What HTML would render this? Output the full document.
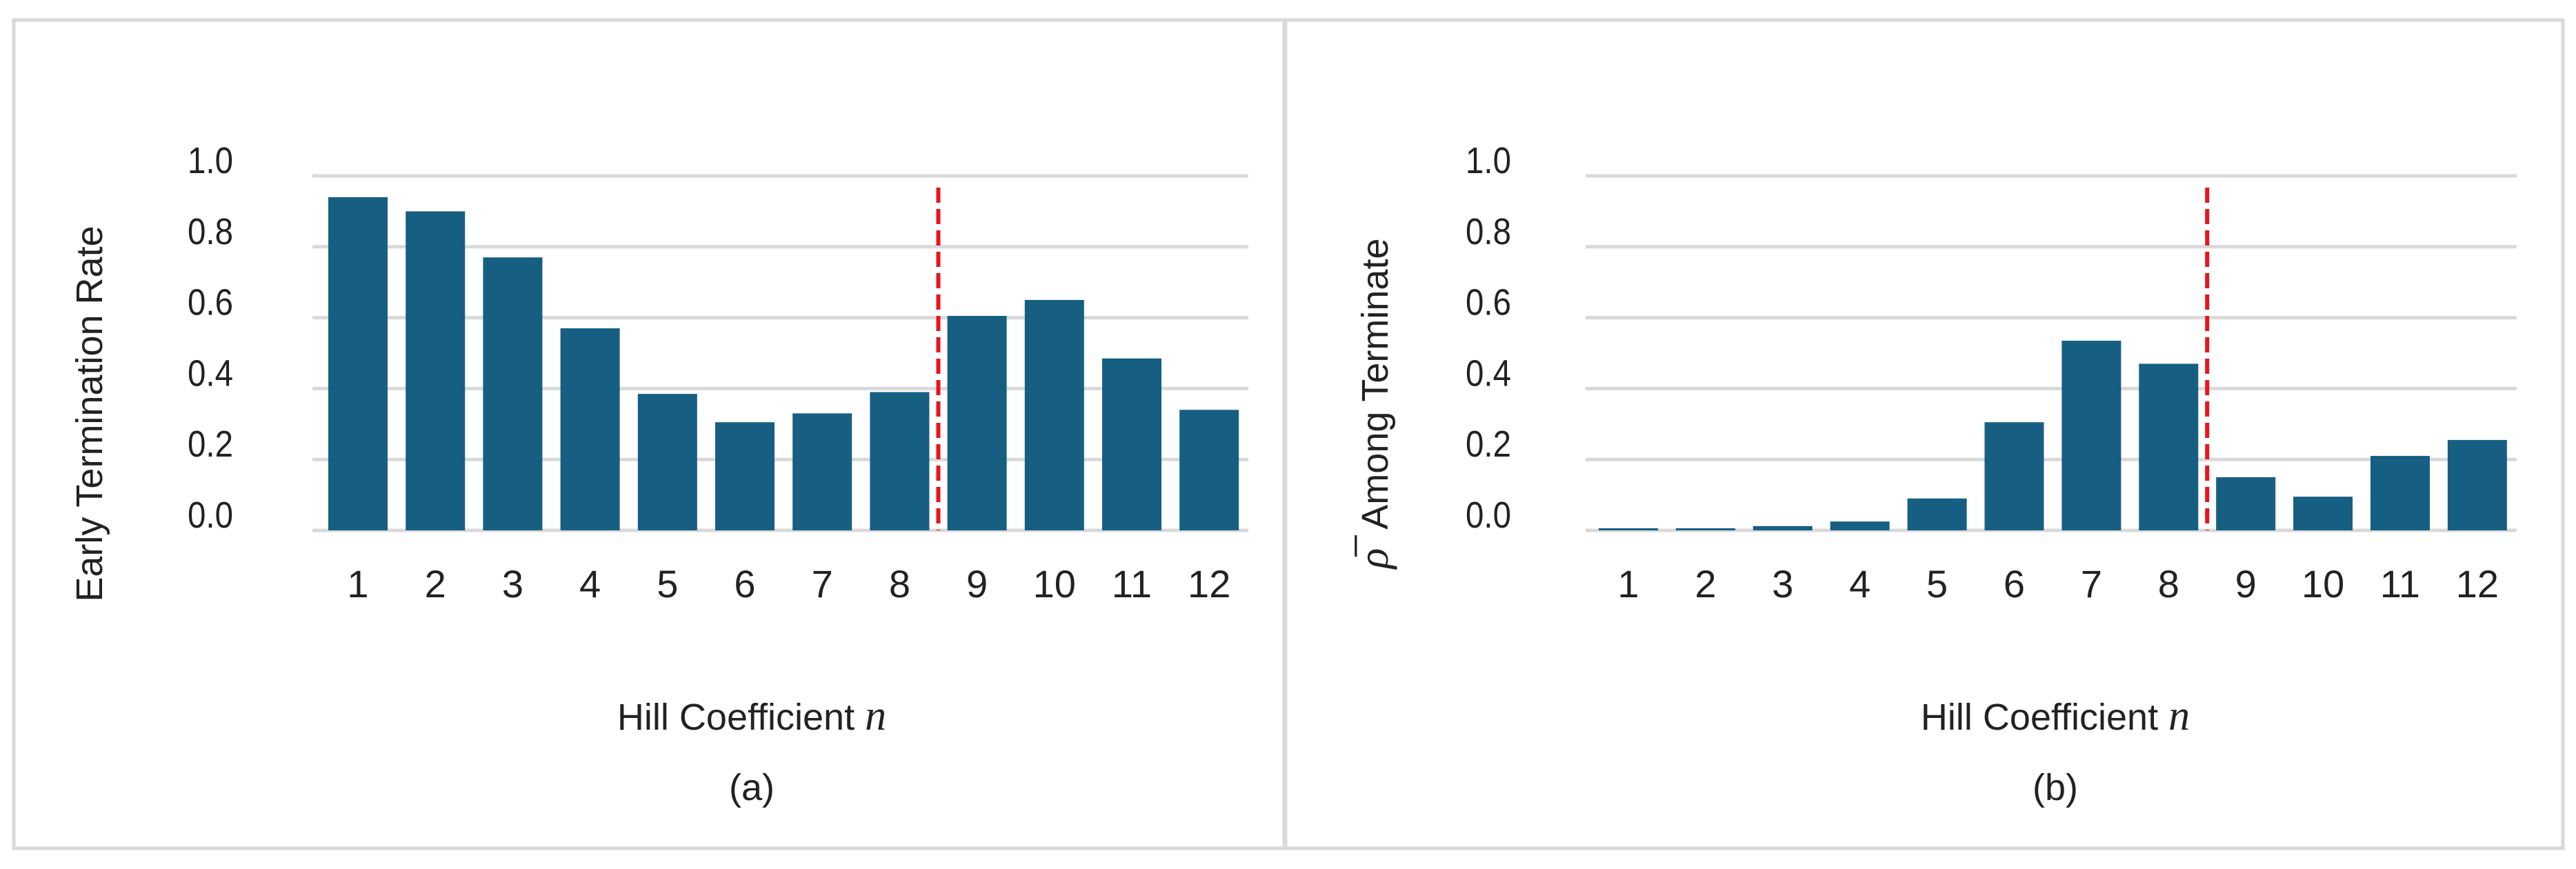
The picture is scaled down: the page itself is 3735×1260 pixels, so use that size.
<!DOCTYPE html>
<html><head><meta charset="utf-8">
<style>
html,body{margin:0;padding:0;background:#fff;}
svg{display:block;}
text{font-family:"Liberation Sans",sans-serif;fill:#222;}
</style></head>
<body>
<svg id="fig" width="3735" height="1260" viewBox="0 0 3735 1260" xmlns="http://www.w3.org/2000/svg">
<rect x="20" y="29" width="1842" height="1201" fill="#fff" stroke="#d9d9d9" stroke-width="5"/>
<rect x="1864" y="29" width="1852" height="1201" fill="#fff" stroke="#d9d9d9" stroke-width="5"/>
<g id="pa"></g>
<g id="pb"></g>
</svg>
<script>
const categories = [1,2,3,4,5,6,7,8,9,10,11,12];
const earlyTermValues = [0.94,0.90,0.77,0.57,0.385,0.305,0.33,0.39,0.605,0.65,0.485,0.34];
const rhoValues = [0.006,0.006,0.012,0.025,0.09,0.305,0.535,0.47,0.15,0.095,0.21,0.255];
const yTicks = [0,0.2,0.4,0.6,0.8,1.0];
const yTickLabels = ["0.0","0.2","0.4","0.6","0.8","1.0"];
const thresholdPosition = 8.5;
const NS = "http://www.w3.org/2000/svg";
function mk(parent, tag, attrs, txt){
  const e = document.createElementNS(NS, tag);
  for (const k in attrs) e.setAttribute(k, attrs[k]);
  if (txt !== undefined) e.textContent = txt;
  parent.appendChild(e);
  return e;
}
function drawPanel(g, cfg, values){
  const yScale = v => cfg.y0 + (cfg.y1 - cfg.y0) * v;
  const xScale = c => cfg.c1 + (c - 1) * cfg.step;
  yTicks.forEach((t,i)=>{
    const ln = mk(g,'line',{x1:cfg.gx0,x2:cfg.gx1,y1:yScale(t),y2:yScale(t),stroke:'#d9d9d9','stroke-width':5});
    
    
    const tx = mk(g,'text',{x:cfg.tickX,y:yScale(t)-4,'text-anchor':'end','font-size':54,textLength:66,lengthAdjust:'spacingAndGlyphs'},yTickLabels[i]);
    
    
  });
  values.forEach((v,i)=>{
    const c = categories[i];
    const top = yScale(v);
    const r = mk(g,'rect',{x:xScale(c)-43,y:top,width:86,height:cfg.y0-top,fill:'#165f82'});
    
    
    const tl = mk(g,'text',{x:xScale(c),y:866,'text-anchor':'middle','font-size':56},String(c));
    
    
  });
  const rx = xScale(thresholdPosition);
  const rl = mk(g,'line',{x1:rx,x2:rx,y1:272,y2:cfg.y0,stroke:'#e8141c','stroke-width':6,'stroke-dasharray':'22 9'});
  
  
  const xt = mk(g,'text',{x:cfg.xTitleX,y:1058,'text-anchor':'middle','font-size':54});
  
  
  xt.appendChild(document.createTextNode('Hill Coefficient '));
  mk(xt,'tspan',{'font-family':'Liberation Serif, serif','font-style':'italic','font-size':62},'n');
  const cap = mk(g,'text',{x:cfg.xTitleX,y:1160,'text-anchor':'middle','font-size':54},cfg.caption);
  
  
  const yt = mk(g,'text',{x:0,y:0,'text-anchor':'middle','font-size':54,transform:`translate(${cfg.yTitleX},${cfg.yTitleY}) rotate(-90)`});
  
  
  if (cfg.rho){
    mk(yt,'tspan',{'font-family':'Liberation Serif, serif','font-style':'italic','font-size':62},'\u03C1\u0305');
    yt.appendChild(document.createTextNode('\u2002' + cfg.yTitle));
  } else {
    yt.textContent = cfg.yTitle;
  }
}
drawPanel(document.getElementById('pa'),{y0:769,y1:255,c1:519,step:112.2,gx0:453,gx1:1810,tickX:338,xTitleX:1090,yTitleX:148,yTitleY:600,caption:'(a)',yTitle:'Early Termination Rate'},earlyTermValues);
drawPanel(document.getElementById('pb'),{y0:769,y1:255,c1:2361,step:111.9,gx0:2299,gx1:3649,tickX:2191,xTitleX:2980,yTitleX:2012,yTitleY:585,caption:'(b)',yTitle:'Among Terminate',rho:true},rhoValues);
</script>
</body></html>
